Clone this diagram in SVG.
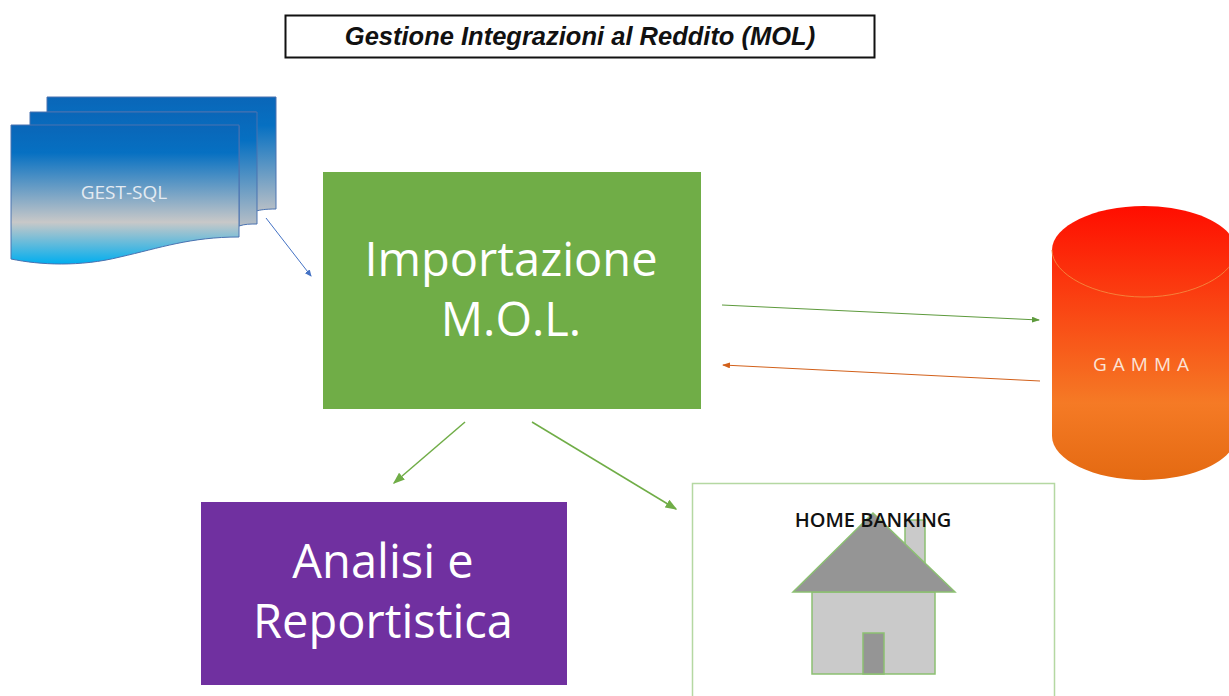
<svg xmlns="http://www.w3.org/2000/svg" width="1229" height="696" viewBox="0 0 1229 696">
<style>
text{font-family:"Open Sans","Noto Sans","Liberation Sans",sans-serif;text-anchor:middle}
.big{font-size:47px;fill:#fff}
.doc{fill:url(#blue);stroke:#4a72b0;stroke-width:1}
.house{stroke:#8cc072;stroke-width:1.5}
</style>
<defs>
<linearGradient id="blue" x1="0" y1="0" x2="0" y2="1">
<stop offset="0" stop-color="#0a66b8"/><stop offset=".2" stop-color="#0670c2"/><stop offset=".7" stop-color="#c8c8c8"/><stop offset="1" stop-color="#00aeef"/>
</linearGradient>
<linearGradient id="blue2" x1="0" y1="0" x2="0" y2="1">
<stop offset="0" stop-color="#0a66b8"/><stop offset=".25" stop-color="#0670c2"/><stop offset="1" stop-color="#b8bfc6"/>
</linearGradient>
<linearGradient id="red" x1="0" y1="0" x2="0" y2="1">
<stop offset="0" stop-color="#ff0d00"/><stop offset=".72" stop-color="#f57a25"/><stop offset="1" stop-color="#e46a12"/>
</linearGradient>
<marker id="ab" markerWidth="7" markerHeight="6" refX="6" refY="3" orient="auto"><path d="M0 0L7 3L0 6z" fill="#4472c4"/></marker>
<marker id="ag" markerWidth="8" markerHeight="6" refX="7" refY="3" orient="auto"><path d="M0 0L8 3L0 6z" fill="#5d9a3c"/></marker>
<marker id="ao" markerWidth="8" markerHeight="6" refX="7" refY="3" orient="auto"><path d="M0 0L8 3L0 6z" fill="#d2601a"/></marker>
<marker id="al" markerWidth="8" markerHeight="6" refX="7" refY="3" orient="auto"><path d="M0 0L8 3L0 6z" fill="#70ad47"/></marker>
</defs>
<rect width="1229" height="696" fill="#fff"/>
<g id="title">
<rect x="285.500" y="15.500" width="589" height="42" fill="#fff" stroke="#111" stroke-width="2"/>
<text x="580" y="45" font-size="25.500" font-weight="700" font-style="italic" fill="#111" style="font-family:'Liberation Sans',sans-serif">Gestione Integrazioni al Reddito (MOL)</text>
</g>
<g id="gest-sql">
<path class="doc" style="fill:url(#blue2)" d="M47 97H276V209C265 209 260 210 256 211V112H47z"/>
<path class="doc" style="fill:url(#blue2)" d="M30 112H257V224C250 224 245 224 239 226V126H30z"/>
<path class="doc" d="M11 125H239V237C190 237 160 248 120 257C80 267 40 265 11 259z"/>
<text x="124" y="199" font-size="19" fill="#e4ebf2">GEST-SQL</text>
</g>
<g id="importazione">
<rect x="323" y="172" width="378" height="237" fill="#70ad47"/>
<text class="big" x="511" y="276">Importazione</text>
<text class="big" x="511" y="336">M.O.L.</text>
</g>
<g id="gamma">
<path d="M1052 250C1052 226 1094 206 1144 206C1194 206 1236 226 1236 250V436C1236 460 1194 480 1144 480C1094 480 1052 460 1052 436z" fill="url(#red)"/>
<path d="M1052 250C1052 274 1094 297 1144 297C1194 297 1236 274 1236 250" fill="none" stroke="#f5813a" stroke-width="1"/>
<text x="1144" y="371" font-size="19" letter-spacing="6" fill="#fbe3d6">GAMMA</text>
</g>
<g id="analisi">
<rect x="201" y="502" width="366" height="183" fill="#7030a0"/>
<text class="big" x="383" y="578">Analisi e</text>
<text class="big" x="383" y="638">Reportistica</text>
</g>
<g id="home-banking">
<path d="M692.500 700V483.500H1054.500V700" fill="#fff" stroke="#b5d8a2" stroke-width="1.500"/>
<path class="house" d="M905 520H925V566H905z" fill="#cacaca"/>
<path class="house" d="M812 592H935V674H812z" fill="#cacaca"/>
<path class="house" d="M863 633H884V674H863z" fill="#959595"/>
<path class="house" d="M793 592L873 513L955 592z" fill="#959595"/>
<text x="873" y="527" font-size="20" font-weight="600" fill="#111">HOME BANKING</text>
</g>
<g id="connectors" fill="none">
<path d="M266 218L311 276" stroke="#4472c4" stroke-width="1" marker-end="url(#ab)"/>
<path d="M722 305L1039 320" stroke="#5d9a3c" stroke-width="1" marker-end="url(#ag)"/>
<path d="M1040 381L723 365" stroke="#d2601a" stroke-width="1" marker-end="url(#ao)"/>
<path d="M465 422L394 483" stroke="#70ad47" stroke-width="1.500" marker-end="url(#al)"/>
<path d="M532 422L676 509" stroke="#70ad47" stroke-width="1.500" marker-end="url(#al)"/>
</g>
</svg>
